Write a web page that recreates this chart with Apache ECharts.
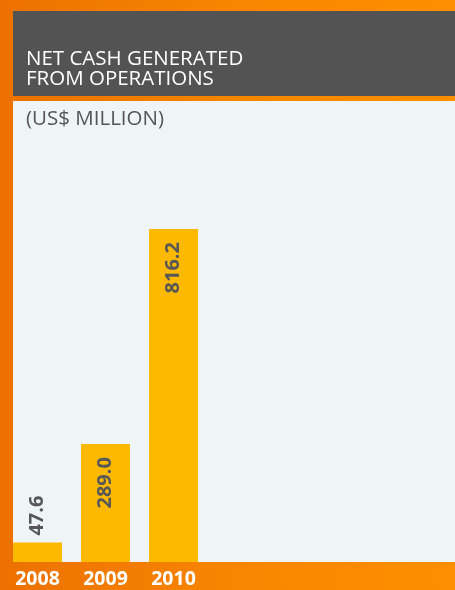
<!DOCTYPE html>
<html><head><meta charset="utf-8">
<script src="https://cdn.jsdelivr.net/npm/echarts@6/dist/echarts.min.js"></script>
<style>html,body{margin:0;padding:0;background:#f28000}#c{width:455px;height:590px}</style>
</head><body><div id="c"></div>
<script>
const categories = ['2008', '2009', '2010'];
const values = [47.6, 289.0, 816.2];
const titleLines = ['NET CASH GENERATED', 'FROM OPERATIONS'];
const unitLabel = '(US$ MILLION)';

const chart = echarts.init(document.getElementById('c'), null, {renderer: 'canvas'});
const FONT = '"Open Sans", "Noto Sans", sans-serif';
chart.setOption({
  animation: false,
  backgroundColor: {
    type: 'linear', x: 0, y: 0, x2: 1, y2: 0,
    colorStops: [{offset: 0, color: '#ec7100'}, {offset: 0.5, color: '#f88500'}, {offset: 1, color: '#fd8e00'}]
  },
  graphic: [
    {type: 'rect', left: 13, top: 11, shape: {width: 442, height: 85}, style: {fill: '#535353'}, z: 0},
    {type: 'rect', left: 13, top: 101, shape: {width: 442, height: 461}, style: {fill: '#eff4f7'}, z: 0},
    {type: 'text', left: 26, top: 49, style: {text: titleLines.join('\n'), fill: '#ffffff', font: '20.5px ' + FONT, lineHeight: 20}, z: 5},
    {type: 'text', left: 26, top: 109, style: {text: unitLabel, fill: '#555555', font: '20.5px ' + FONT}, z: 5}
  ],
  grid: {left: 3.5, width: 204, top: 101, bottom: 28, containLabel: false},
  xAxis: {
    type: 'category', data: categories,
    axisLine: {show: false}, axisTick: {show: false},
    axisLabel: {color: '#ffffff', fontWeight: 'bold', fontSize: 19.5, fontFamily: FONT, margin: 7}
  },
  yAxis: {type: 'value', min: 0, max: 1130, show: false, splitLine: {show: false}},
  series: [{
    type: 'bar', barWidth: 49, z: 3,
    itemStyle: {color: '#fdb900'},
    data: values.map((v, i) => ({
      value: v,
      label: i === 0
        ? {show: true, position: 'top', rotate: 90, align: 'left', verticalAlign: 'middle', distance: 7}
        : {show: true, position: 'insideTop', rotate: 90, align: 'right', verticalAlign: 'middle', distance: 13}
    })),
    label: {color: '#575757', fontWeight: 'bold', fontSize: 20, fontFamily: FONT,
      formatter: p => p.value.toFixed(1)}
  }]
});
</script></body></html>
